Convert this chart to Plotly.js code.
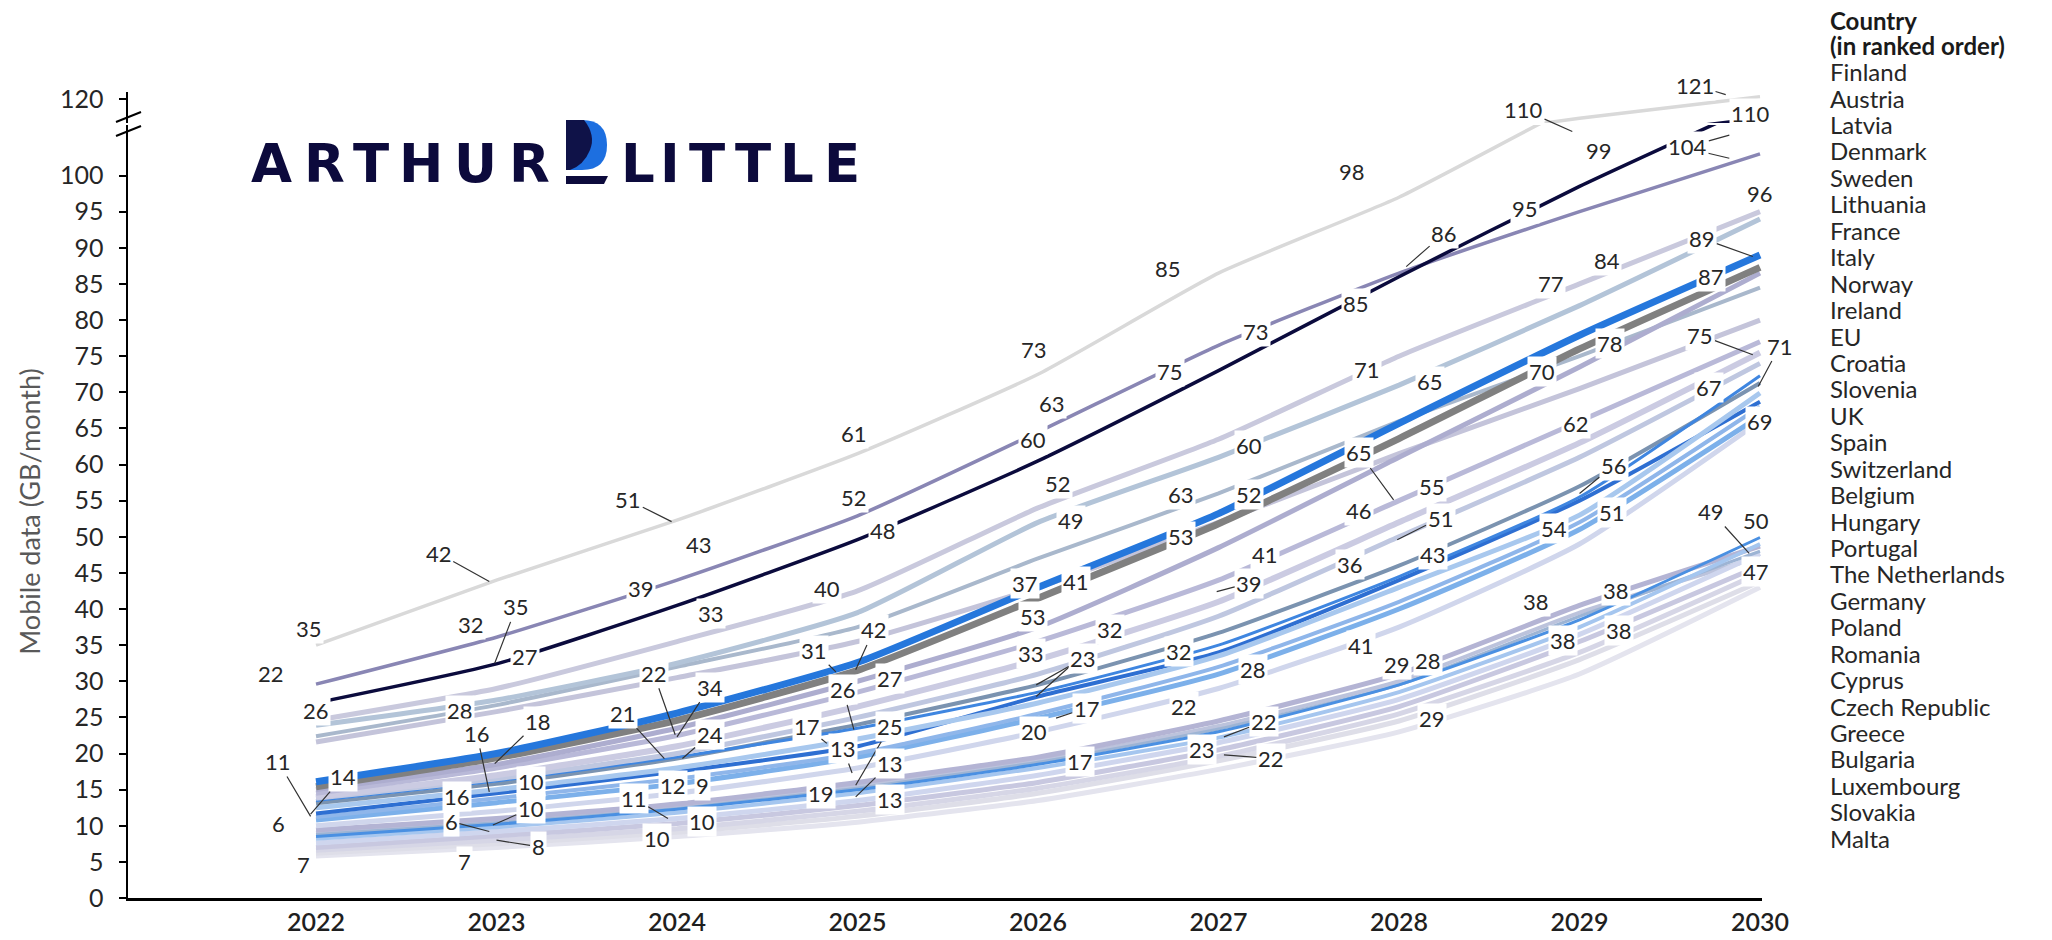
<!DOCTYPE html>
<html><head><meta charset="utf-8">
<script src="https://cdn.plot.ly/plotly-3.0.1.min.js"></script>
<style>html,body{margin:0;padding:0;background:#fff;}#chart{width:2052px;height:940px;}</style>
</head><body><div id="chart"></div>
<script>
// ---------------- DATA ----------------
const years = [2022, 2023, 2024, 2025, 2026, 2027, 2028, 2029, 2030];
const yearLabels = ['2022', '2023', '2024', '2025', '2026', '2027', '2028', '2029', '2030'];
const yTickValues = [0, 5, 10, 15, 20, 25, 30, 35, 40, 45, 50, 55, 60, 65, 70, 75, 80, 85, 90, 95, 100];
const yTickValuesUpper = [120];

const countries = ['Finland', 'Austria', 'Latvia', 'Denmark', 'Sweden', 'Lithuania', 'France', 'Italy', 'Norway', 'Ireland',
  'EU', 'Croatia', 'Slovenia', 'UK', 'Spain', 'Switzerland', 'Belgium', 'Hungary', 'Portugal', 'The Netherlands',
  'Germany', 'Poland', 'Romania', 'Cyprus', 'Czech Republic', 'Greece', 'Bulgaria', 'Luxembourg', 'Slovakia', 'Malta'];

const finland     = [35, 44, 52.3, 61.5, 72.5, 86.5, 97, 110, 121];
const austria     = [27, 32.4, 40.5, 49.6, 60.5, 73, 86, 98.5, 110];
const latvia      = [29.6, 36.1, 44, 52.9, 64.5, 76.5, 86.5, 95, 103];
const denmark     = [24.6, 29, 35.5, 42.5, 54, 63.5, 75, 85, 95];
const sweden      = [23.9, 27.4, 32.5, 39.5, 52, 61, 71, 82, 94];
const lithuania   = [16.1, 20, 25.6, 32.6, 43, 53.2, 65.7, 77.9, 89];
const france      = [15.4, 19.4, 24.6, 31.5, 41.5, 51.8, 63.6, 76, 87.3];
const italy       = [15, 18.5, 23.5, 30, 37.5, 48.5, 61, 73.5, 86.5];
const norway      = [22.4, 26.7, 32, 37.5, 47, 56, 66, 75, 84.5];
const ireland     = [21.6, 25.8, 30.5, 35.5, 43, 52, 61.5, 70.5, 80];
const eu          = [14.5, 18, 22.5, 28.5, 35.5, 44, 55, 66, 77];
const croatia     = [14, 17, 21, 26.5, 33, 41, 52, 63, 75.5];
const slovenia    = [13.8, 16.5, 20, 25, 31, 39, 50, 61, 74];
const uk          = [13.5, 16.2, 19.5, 23.5, 28.5, 35, 44.5, 55.5, 72.3];
const spain       = [13.1, 15.8, 19.3, 24, 29.5, 36.7, 46, 57, 71.3];
const switzerland = [12.5, 15, 18, 22, 27, 33.5, 43, 53, 69.9];
const belgium     = [11.7, 14.5, 17.5, 21, 27.9, 34, 44, 55, 68.7];
const hungary     = [11.2, 13.8, 16.5, 20, 25.5, 32, 41, 52, 68];
const portugal    = [10.8, 13.2, 15.8, 19.5, 24.9, 31, 40, 51, 66.7];
const netherlands = [10, 12, 14.5, 18, 23, 29, 37.5, 49, 66];
const germany     = [8.5, 10.2, 12.3, 15, 18.5, 23, 29.5, 38.5, 49.9];
const poland      = [8.2, 9.8, 11.8, 14.5, 18, 22.2, 28.5, 37.5, 49];
const romania     = [9.4, 11, 13, 16, 19.5, 24.5, 31, 40.5, 48.7];
const cyprus      = [8.8, 10.4, 12.4, 15.2, 18.8, 23.4, 29.5, 39, 48];
const czech       = [7.6, 9.2, 11, 13.5, 17, 21.5, 27.5, 36.5, 47.7];
const greece      = [9, 10.6, 12.6, 15.5, 19, 23.8, 30, 39.5, 47.2];
const bulgaria    = [7, 8.6, 10.3, 12.8, 16, 20.5, 26.5, 35.5, 46];
const luxembourg  = [6.6, 8, 9.6, 12, 15.2, 19.6, 25.5, 34, 45];
const slovakia    = [6.2, 7.5, 9.1, 11.3, 14.5, 19, 24.5, 33, 43.8];
const malta       = [5.8, 7, 8.5, 10.5, 13.5, 17.8, 23, 31, 43];

const seriesValues = [finland, austria, latvia, denmark, sweden, lithuania, france, italy, norway, ireland,
  eu, croatia, slovenia, uk, spain, switzerland, belgium, hungary, portugal, netherlands,
  germany, poland, romania, cyprus, czech, greece, bulgaria, luxembourg, slovakia, malta];

// data labels as printed on the chart: [text, year, value, leaderYear, leaderValue]
const dataLabels = [
  ['35',2021.96,37.3],['22',2021.75,31.1],['26',2022.00,26.0],['11',2021.79,18.9,2021.97,11.3],['14',2022.15,16.8,2021.97,11.6],
  ['6',2021.79,10.3],['7',2021.93,4.6],
  ['42',2022.68,47.7,2022.96,43.8],['32',2022.86,37.8],['35',2023.11,40.3,2022.99,32.5],['27',2023.16,33.4],['28',2022.80,26.0],
  ['16',2022.89,22.8,2022.96,14.7],['18',2023.23,24.4,2022.99,18.6],['10',2023.19,16.1],['16',2022.78,14.0],
  ['10',2023.19,12.4,2022.98,10.1],['6',2022.75,10.6,2022.96,9.2],['8',2023.23,7.1,2023.00,8.0],['7',2022.82,5.0],
  ['51',2023.73,55.1,2023.97,52.1],['39',2023.80,42.9],['43',2024.12,48.9],['33',2024.19,39.4],['22',2023.87,31.1,2023.99,22.6],
  ['34',2024.18,29.2,2024.00,22.3],['21',2023.70,25.6,2023.93,19.3],['24',2024.18,22.6,2024.03,19.3],['12',2023.98,15.6],
  ['9',2024.14,15.6],['11',2023.76,13.8,2023.95,11.0],['10',2024.14,10.6],['10',2023.89,8.3],
  ['61',2024.98,64.3],['52',2024.98,55.5],['48',2025.14,50.9],['40',2024.83,42.9],['42',2025.09,37.1,2024.99,31.6],
  ['31',2024.76,34.3,2024.88,31.3],['26',2024.92,28.8,2024.98,23.3],['27',2025.18,30.4],['17',2024.72,23.7,2024.83,21.4],
  ['25',2025.18,23.7,2024.99,15.6],['13',2024.92,20.7,2024.97,17.3],['13',2025.18,18.6,2024.99,14.0],['19',2024.80,14.5],
  ['13',2025.18,13.6],
  ['73',2025.98,75.9],['63',2026.08,68.5],['60',2025.97,63.4],['52',2026.11,57.4],['49',2026.18,52.3],['37',2025.93,43.6],
  ['41',2026.21,43.8],['53',2025.97,38.9],['32',2026.40,37.1],['33',2025.96,33.9],['23',2026.25,33.2,2025.99,29.5],
  ['17',2026.27,26.3,2026.10,24.9],['20',2025.98,23.0],['17',2026.23,18.9],
  ['85',2026.72,87.2],['75',2026.73,72.9],['63',2026.79,55.8],['53',2026.79,50.0],['32',2026.78,34.1],['22',2026.81,26.5],
  ['23',2026.91,20.5],['73',2027.21,78.4],['60',2027.17,62.7],['52',2027.17,55.8],['41',2027.26,47.5],
  ['39',2027.17,43.6,2026.99,42.4],['28',2027.19,31.6],['22',2027.25,24.4,2027.03,22.3],['22',2027.29,19.3,2027.03,19.8],
  ['98',2027.74,100.5],['85',2027.76,82.3],['71',2027.82,73.1],['65',2027.78,61.6,2027.97,55.1],['46',2027.78,53.7],
  ['36',2027.73,46.1],['41',2027.79,35.0],['29',2027.99,32.3],
  ['86',2028.25,92.0,2028.04,87.4],['65',2028.17,71.5],['55',2028.18,56.9],['51',2028.23,52.6,2027.99,49.6],['43',2028.19,47.5],
  ['28',2028.16,32.9],['29',2028.18,24.9],
  ['95',2028.70,95.5],['77',2028.84,85.1],['70',2028.79,72.9],['62',2028.98,65.7],['54',2028.86,51.2],['38',2028.76,41.0],
  ['38',2028.91,35.7],['110',2028.69,109.1,2028.96,106.1],
  ['99',2029.11,103.5],['84',2029.15,88.3],['78',2029.17,76.7],['56',2029.19,59.9,2029.0,56.0],['51',2029.18,53.3],
  ['38',2029.20,42.6],['38',2029.22,37.0],
  ['121',2029.64,112.5,2029.81,111.2],['104',2029.60,104.0,2029.83,105.6],['110',2029.95,108.6],['96',2030.0,97.5],
  ['89',2029.68,91.3,2029.96,88.8],['87',2029.73,86.0],['75',2029.67,77.9,2029.96,75.2],['71',2030.11,76.4,2029.99,70.8],
  ['67',2029.72,70.6],['69',2030.0,66.0],['49',2029.73,53.5,2029.94,47.7],['50',2029.98,52.3],['47',2029.98,45.2]
];
// extra leader lines (second branch of a label): [fromYear, fromValue, toYear, toValue]
const extraLeaders = [[2026.20,32.6,2025.99,27.9],[2029.66,103.4,2029.83,102.4]];

// ---------------- STYLE ----------------
const lineColors = ['#d9d9d9','#0b0b3d','#8986b4','#c9c9dd','#b3c4d8','#2577dc','#808080','#adadcf','#a9b8cc','#c4c4da',
  '#b9b9d8','#cbcbe2','#bfc7e0','#3f86e0','#7b93b0','#a8c8ee','#2e6fd2','#8fb6ea','#7cb0ea','#d0d6ec',
  '#4a90e2','#a5c6ef','#b4b4d4','#9db4d4','#cfd6ee','#bcc3dc','#c8c8e0','#d6d6e6','#dedee8','#e4e4ee'];
const lineWidths = [3.5,3.5,3.5,5,5,7,7,5,4,5, 5,6,5,3,4,5,4,4,5,5, 3,4,5,3,5,4,5,5,5,5];
const drawOrder = [29,28,27,26,25,24,23,22,21,20, 19,18,17,16,15,14,13,12,11,10, 9,8,4,3,7,6,5,0,2,1];

const FONT = 'Lato, "Open Sans", sans-serif';
const L = 128, R = 1762, T = 92, B = 898;           // plot area in page pixels
const W = R - L, H = B - T;
const X0 = 2020.9584, X1 = 2030.011;
const YMAX = 107, D1 = (B - 125) / H, D2 = (B - 123) / H;
const PXYR = W / (X1 - X0), PXV = H * D1 / YMAX;
const pxX = yr => (yr - X0) / (X1 - X0);
const pxY = v => v * D1 / YMAX;
const pageX = p => (p - L) / W;
const pageY = p => (B - p) / H;

// ---------------- TRACES ----------------
const traces = [];
drawOrder.forEach(i => {
  const vals = seriesValues[i];
  const base = {x: years, y: vals, mode: 'lines', name: countries[i], hoverinfo: 'skip', showlegend: false,
    line: {color: lineColors[i], width: lineWidths[i], shape: 'spline', smoothing: 0.5}};
  traces.push(Object.assign({}, base, {xaxis: 'x', yaxis: 'y'}));
  if (Math.max.apply(null, vals) > YMAX) traces.push(Object.assign({}, base, {xaxis: 'x', yaxis: 'y2'}));
});

// ---------------- ANNOTATIONS ----------------
const annotations = [];
dataLabels.forEach(l => {
  const [txt, lx, ly, tx, ty] = l;
  const a = {text: txt, xref: 'paper', yref: 'paper', xanchor: 'center', yanchor: 'middle',
    font: {family: FONT, size: 22, color: '#262626'}, bgcolor: '#ffffff', borderpad: 1};
  if (tx === undefined) { a.x = pxX(lx); a.y = pxY(ly); a.showarrow = false; }
  else {
    a.x = pxX(tx); a.y = pxY(ty); a.showarrow = true; a.arrowhead = 0; a.arrowwidth = 1.2; a.arrowcolor = '#333';
    a.standoff = 0; a.axref = 'pixel'; a.ayref = 'pixel'; a.ax = (lx - tx) * PXYR; a.ay = -(ly - ty) * PXV;
  }
  annotations.push(a);
});

// legend text (ranked order)
annotations.push({text: '<b>Country</b>', xref: 'paper', yref: 'paper', x: pageX(1828), y: pageY(20), xanchor: 'left', yanchor: 'middle',
  showarrow: false, font: {family: FONT, size: 24, color: '#1a1a1a'}});
annotations.push({text: '<b>(in ranked order)</b>', xref: 'paper', yref: 'paper', x: pageX(1828), y: pageY(45.5), xanchor: 'left', yanchor: 'middle',
  showarrow: false, font: {family: FONT, size: 24, color: '#1a1a1a'}});
countries.forEach((c, i) => annotations.push({text: c, xref: 'paper', yref: 'paper', x: pageX(1828), y: pageY(71.7 + i * 26.43),
  xanchor: 'left', yanchor: 'middle', showarrow: false, font: {family: FONT, size: 24, color: '#262626'}}));

// logo
const logoLetters = [['A',271.5],['R',324.5],['T',371],['H',420.5],['U',475.5],['R',529.5],['L',637.5],['I',669.5],['T',706.5],['T',752.5],['L',797],['E',841.5]];
logoLetters.forEach(([ch, cx]) => annotations.push({text: '<b>' + ch + '</b>', xref: 'paper', yref: 'paper', x: pageX(cx), y: pageY(164),
  xanchor: 'center', yanchor: 'middle', showarrow: false, font: {family: '"DejaVu Sans", sans-serif', size: 53, color: '#0c0a3c'}}));

// ---------------- SHAPES ----------------
const P = (x, y) => pageX(x) + ',' + pageY(y);
const shapes = [];
extraLeaders.forEach(([fx, fv, tx, tv]) => shapes.push({type: 'line', xref: 'paper', yref: 'paper',
  x0: pxX(fx), y0: pxY(fv), x1: pxX(tx), y1: pxY(tv), line: {color: '#333', width: 1.2}}));
// axis break marks
[117, 131].forEach(yy => shapes.push({type: 'line', xref: 'paper', yref: 'paper', x0: pageX(116), y0: pageY(yy + 5), x1: pageX(141), y1: pageY(yy - 5),
  line: {color: '#000', width: 2}}));
// logo "D" mark and bar
shapes.push({type: 'path', xref: 'paper', yref: 'paper', path: 'M ' + P(566,120) + ' L ' + P(582,120) + ' Q ' + P(607,120) + ' ' + P(607,145) +
  ' Q ' + P(607,170) + ' ' + P(582,170) + ' L ' + P(566,170) + ' Z', fillcolor: '#1d6fe0', line: {width: 0}});
shapes.push({type: 'path', xref: 'paper', yref: 'paper', path: 'M ' + P(566,120) + ' L ' + P(584,120) + ' Q ' + P(596,135) + ' ' + P(590,150) +
  ' Q ' + P(584,165) + ' ' + P(570,170) + ' L ' + P(566,170) + ' Z', fillcolor: '#0f1248', line: {width: 0}});
shapes.push({type: 'path', xref: 'paper', yref: 'paper', path: 'M ' + P(566,176) + ' L ' + P(608,176) + ' L ' + P(604,184) + ' L ' + P(566,184) + ' Z',
  fillcolor: '#0c0a3c', line: {width: 0}});

// ---------------- LAYOUT ----------------
const axisCommon = {showgrid: false, zeroline: false, showline: true, linecolor: '#000', linewidth: 2.5};
const layout = {
  width: 2052, height: 940, paper_bgcolor: '#fff', plot_bgcolor: 'rgba(0,0,0,0)',
  margin: {l: L, r: 2052 - R, t: T, b: 940 - B}, showlegend: false,
  font: {family: FONT, color: '#262626'},
  xaxis: Object.assign({}, axisCommon, {range: [X0, X1], tickmode: 'array', tickvals: years, ticktext: yearLabels, ticks: '',
    tickfont: {family: FONT, size: 25, color: '#1f1f1f', weight: 600}, anchor: 'y'}),
  yaxis: Object.assign({}, axisCommon, {domain: [0, D1], range: [0, YMAX], tickmode: 'array', tickvals: yTickValues, ticks: 'outside',
    ticklen: 7, tickwidth: 2, tickcolor: '#000', tickfont: {family: FONT, size: 25, color: '#262626'}, ticklabelstandoff: 10,
    title: {text: 'Mobile data (GB/month)', font: {family: FONT, size: 27, color: '#595959'}, standoff: 12}, anchor: 'x'}),
  yaxis2: Object.assign({}, axisCommon, {domain: [D2, 1], range: [107.5, 123.5], tickmode: 'array', tickvals: yTickValuesUpper, ticks: 'outside',
    ticklen: 7, tickwidth: 2, tickcolor: '#000', tickfont: {family: FONT, size: 25, color: '#262626'}, ticklabelstandoff: 10, anchor: 'x'}),
  annotations: annotations, shapes: shapes
};

Plotly.newPlot('chart', traces, layout, {displayModeBar: false, staticPlot: true});
</script>
</body></html>
